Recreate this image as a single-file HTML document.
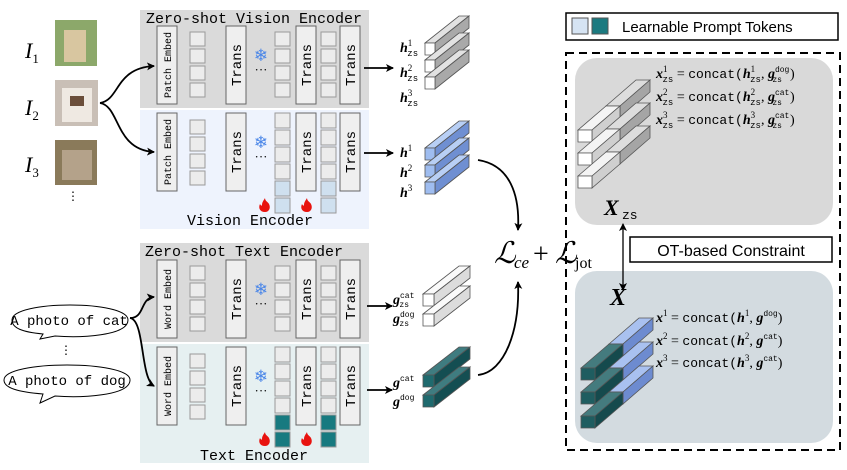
<!DOCTYPE html>
<html><head><meta charset="utf-8"><style>
body{margin:0;background:#fff}
svg{display:block}
.mono{font-family:"Liberation Mono",monospace}
.serif{font-family:"Liberation Serif",serif}
.sans{font-family:"Liberation Sans",sans-serif}
</style></head><body>
<svg id="s" width="847" height="470" viewBox="0 0 847 470" xmlns="http://www.w3.org/2000/svg">
<defs>
<marker id="ah" markerWidth="8" markerHeight="8" refX="7" refY="4" orient="auto" markerUnits="userSpaceOnUse"><path d="M0,0 L8,4 L0,8 L2,4 z" fill="#000"/></marker>
<marker id="ah2" markerWidth="8" markerHeight="8" refX="1" refY="4" orient="auto" markerUnits="userSpaceOnUse"><path d="M8,0 L0,4 L8,8 L6,4 z" fill="#000"/></marker>
</defs>
<rect x="140" y="10" width="229" height="98" fill="#dadada"/>
<rect x="140" y="110" width="229" height="119" fill="#eef3fd"/>
<rect x="140" y="243" width="229" height="99" fill="#dadada"/>
<rect x="140" y="344" width="229" height="119" fill="#e6f0f1"/>
<text x="254" y="23" class="mono" font-size="15" text-anchor="middle">Zero-shot Vision Encoder</text>
<text x="250" y="225" class="mono" font-size="15" text-anchor="middle">Vision Encoder</text>
<text x="244" y="256" class="mono" font-size="15" text-anchor="middle">Zero-shot Text Encoder</text>
<text x="254" y="460" class="mono" font-size="15" text-anchor="middle">Text Encoder</text>
<g id="enc"></g>
<rect x="566" y="13" width="272" height="27" fill="#fff" stroke="#000" stroke-width="1.5"/>
<rect x="572" y="18" width="16" height="16" fill="#d6e4f3" stroke="#555"/>
<rect x="592" y="18" width="16" height="16" fill="#1c7a80" stroke="#555"/>
<text x="622" y="32" class="sans" font-size="15">Learnable Prompt Tokens</text>
<rect x="566" y="53" width="274" height="397" fill="none" stroke="#000" stroke-width="2" stroke-dasharray="8,5"/>
<rect x="575" y="58" width="258" height="167" rx="22" fill="#d9d9d9"/>
<rect x="575" y="271" width="258" height="172" rx="22" fill="#d3dbe0"/>
<rect x="630" y="237" width="202" height="25" fill="#fff" stroke="#000" stroke-width="1.5"/>
<text x="731" y="256" class="sans" font-size="16" text-anchor="middle">OT-based Constraint</text>
<line x1="623" y1="224" x2="623" y2="290" stroke="#000" stroke-width="1.3" marker-start="url(#ah2)" marker-end="url(#ah)"/>
<text x="604" y="215" class="serif" font-size="22" font-style="italic" font-weight="bold">X</text>
<text x="622" y="219" class="mono" font-size="13">zs</text>
<text x="610" y="305" class="serif" font-size="24" font-style="italic" font-weight="bold">X</text>
<g class="serif" font-size="14">
<text x="656" y="78"><tspan font-style="italic" font-weight="bold">x</tspan><tspan font-size="9" dy="-6">1</tspan><tspan font-size="9" dx="-5" dy="10" class="mono">zs</tspan><tspan dy="-4"> = </tspan><tspan class="mono" font-size="13">concat(</tspan><tspan font-style="italic" font-weight="bold">h</tspan><tspan font-size="9" dy="-6">1</tspan><tspan font-size="9" dx="-5" dy="10" class="mono">zs</tspan><tspan dy="-4">, </tspan><tspan font-style="italic" font-weight="bold">g</tspan><tspan font-size="8" dy="-6" class="mono">dog</tspan><tspan font-size="8" dx="-17" dy="10" class="mono">zs</tspan><tspan dx="8" dy="-4">)</tspan></text>
<text x="656" y="101"><tspan font-style="italic" font-weight="bold">x</tspan><tspan font-size="9" dy="-6">2</tspan><tspan font-size="9" dx="-5" dy="10" class="mono">zs</tspan><tspan dy="-4"> = </tspan><tspan class="mono" font-size="13">concat(</tspan><tspan font-style="italic" font-weight="bold">h</tspan><tspan font-size="9" dy="-6">2</tspan><tspan font-size="9" dx="-5" dy="10" class="mono">zs</tspan><tspan dy="-4">, </tspan><tspan font-style="italic" font-weight="bold">g</tspan><tspan font-size="8" dy="-6" class="mono">cat</tspan><tspan font-size="8" dx="-17" dy="10" class="mono">zs</tspan><tspan dx="8" dy="-4">)</tspan></text>
<text x="656" y="124"><tspan font-style="italic" font-weight="bold">x</tspan><tspan font-size="9" dy="-6">3</tspan><tspan font-size="9" dx="-5" dy="10" class="mono">zs</tspan><tspan dy="-4"> = </tspan><tspan class="mono" font-size="13">concat(</tspan><tspan font-style="italic" font-weight="bold">h</tspan><tspan font-size="9" dy="-6">3</tspan><tspan font-size="9" dx="-5" dy="10" class="mono">zs</tspan><tspan dy="-4">, </tspan><tspan font-style="italic" font-weight="bold">g</tspan><tspan font-size="8" dy="-6" class="mono">cat</tspan><tspan font-size="8" dx="-17" dy="10" class="mono">zs</tspan><tspan dx="8" dy="-4">)</tspan></text>
<text x="656" y="322"><tspan font-style="italic" font-weight="bold">x</tspan><tspan font-size="9" dy="-6">1</tspan><tspan dy="6"> = </tspan><tspan class="mono" font-size="13">concat(</tspan><tspan font-style="italic" font-weight="bold">h</tspan><tspan font-size="9" dy="-6">1</tspan><tspan dy="6">, </tspan><tspan font-style="italic" font-weight="bold">g</tspan><tspan font-size="8" dy="-6" class="mono">dog</tspan><tspan dy="6">)</tspan></text>
<text x="656" y="345"><tspan font-style="italic" font-weight="bold">x</tspan><tspan font-size="9" dy="-6">2</tspan><tspan dy="6"> = </tspan><tspan class="mono" font-size="13">concat(</tspan><tspan font-style="italic" font-weight="bold">h</tspan><tspan font-size="9" dy="-6">2</tspan><tspan dy="6">, </tspan><tspan font-style="italic" font-weight="bold">g</tspan><tspan font-size="8" dy="-6" class="mono">cat</tspan><tspan dy="6">)</tspan></text>
<text x="656" y="367"><tspan font-style="italic" font-weight="bold">x</tspan><tspan font-size="9" dy="-6">3</tspan><tspan dy="6"> = </tspan><tspan class="mono" font-size="13">concat(</tspan><tspan font-style="italic" font-weight="bold">h</tspan><tspan font-size="9" dy="-6">3</tspan><tspan dy="6">, </tspan><tspan font-style="italic" font-weight="bold">g</tspan><tspan font-size="8" dy="-6" class="mono">cat</tspan><tspan dy="6">)</tspan></text>
</g>
<text x="494" y="263" class="serif" font-size="30" font-style="italic">ℒ</text>
<text x="514" y="268" class="serif" font-size="17" font-style="italic">ce</text>
<text x="533" y="263" class="serif" font-size="28">+</text>
<text x="555" y="263" class="serif" font-size="30" font-style="italic">ℒ</text>
<text x="575" y="268" class="serif" font-size="16">jot</text>
<path d="M478,160 C510,165 520,195 518,230" fill="none" stroke="#000" stroke-width="1.8" marker-end="url(#ah)"/>
<path d="M478,375 C505,372 520,330 518,282" fill="none" stroke="#000" stroke-width="1.8" marker-end="url(#ah)"/>
<rect x="55" y="20" width="42" height="46" fill="#8ca86a"/><rect x="64" y="30" width="22" height="32" fill="#d8c6a0"/>
<rect x="55" y="80" width="43" height="46" fill="#c9bfb6"/><rect x="62" y="88" width="30" height="34" fill="#efe9e2"/><rect x="70" y="96" width="14" height="10" fill="#6b4e3a"/>
<rect x="55" y="140" width="42" height="45" fill="#8a7a5a"/><rect x="62" y="150" width="30" height="30" fill="#b4a28a"/>
<text x="25" y="58" class="serif" font-size="22" font-style="italic">I<tspan font-size="13" font-style="normal" dy="5">1</tspan></text>
<text x="25" y="115" class="serif" font-size="22" font-style="italic">I<tspan font-size="13" font-style="normal" dy="5">2</tspan></text>
<text x="25" y="172" class="serif" font-size="22" font-style="italic">I<tspan font-size="13" font-style="normal" dy="5">3</tspan></text>
<text x="73" y="200" font-size="12" class="serif" text-anchor="middle">⋮</text>
<path d="M100,103 C120,100 115,68 154,66" fill="none" stroke="#000" stroke-width="1.8" marker-end="url(#ah)"/>
<path d="M100,103 C120,106 115,150 154,152" fill="none" stroke="#000" stroke-width="1.8" marker-end="url(#ah)"/>
<path d="M12,320 C12,300 128,300 128,320 C128,336 80,338 55,336 L40,339 L43,334 C22,332 12,328 12,320 z" fill="#fff" stroke="#000"/>
<text x="69" y="325" class="mono" font-size="14" text-anchor="middle">A photo of cat</text>
<text x="66" y="354" font-size="12" class="serif" text-anchor="middle">⋮</text>
<path d="M4,380 C4,360 130,360 130,380 C130,396 80,398 55,396 L40,403 L43,394 C18,392 4,388 4,380 z" fill="#fff" stroke="#000"/>
<text x="67" y="385" class="mono" font-size="14" text-anchor="middle">A photo of dog</text>
<path d="M130,318 C145,318 140,298 154,297" fill="none" stroke="#000" stroke-width="1.8" marker-end="url(#ah)"/>
<path d="M130,318 C145,320 140,378 154,386" fill="none" stroke="#000" stroke-width="1.8" marker-end="url(#ah)"/>
<line x1="364" y1="68" x2="393" y2="68" stroke="#000" stroke-width="1.8" marker-end="url(#ah)"/>
<line x1="364" y1="153" x2="393" y2="153" stroke="#000" stroke-width="1.8" marker-end="url(#ah)"/>
<line x1="367" y1="306" x2="392" y2="306" stroke="#000" stroke-width="1.8" marker-end="url(#ah)"/>
<line x1="367" y1="390" x2="392" y2="390" stroke="#000" stroke-width="1.8" marker-end="url(#ah)"/>
<g class="serif" font-size="14" font-style="italic" font-weight="bold">
<text x="400" y="52">h<tspan font-size="9" font-style="normal" font-weight="normal" dy="-6">1</tspan><tspan font-size="9" class="mono" font-style="normal" font-weight="normal" dx="-5" dy="10">zs</tspan></text>
<text x="400" y="77">h<tspan font-size="9" font-style="normal" font-weight="normal" dy="-6">2</tspan><tspan font-size="9" class="mono" font-style="normal" font-weight="normal" dx="-5" dy="10">zs</tspan></text>
<text x="400" y="102">h<tspan font-size="9" font-style="normal" font-weight="normal" dy="-6">3</tspan><tspan font-size="9" class="mono" font-style="normal" font-weight="normal" dx="-5" dy="10">zs</tspan></text>
<text x="400" y="157">h<tspan font-size="9" font-style="normal" font-weight="normal" dy="-6">1</tspan></text>
<text x="400" y="177">h<tspan font-size="9" font-style="normal" font-weight="normal" dy="-6">2</tspan></text>
<text x="400" y="197">h<tspan font-size="9" font-style="normal" font-weight="normal" dy="-6">3</tspan></text>
<text x="393" y="304">g<tspan font-size="8" class="mono" font-style="normal" font-weight="normal" dy="-6">cat</tspan><tspan font-size="8" class="mono" font-style="normal" font-weight="normal" dx="-15" dy="9">zs</tspan></text>
<text x="393" y="323">g<tspan font-size="8" class="mono" font-style="normal" font-weight="normal" dy="-6">dog</tspan><tspan font-size="8" class="mono" font-style="normal" font-weight="normal" dx="-15" dy="9">zs</tspan></text>
<text x="393" y="387">g<tspan font-size="8" class="mono" font-style="normal" font-weight="normal" dy="-6">cat</tspan></text>
<text x="393" y="406">g<tspan font-size="8" class="mono" font-style="normal" font-weight="normal" dy="-6">dog</tspan></text>
</g>
<g id="bars"></g>
</svg>
<script>
var NS="http://www.w3.org/2000/svg";
function el(p,t,a,txt){var e=document.createElementNS(NS,t);for(var k in a)e.setAttribute(k,a[k]);if(txt)e.textContent=txt;document.getElementById(p).appendChild(e);return e;}
function r(x,y,w,h,f,s){el("enc","rect",{x:x,y:y,width:w,height:h,fill:f||"#efefef",stroke:s||"#666","stroke-width":1});}
function vt(x,y,txt,fs){el("enc","text",{x:0,y:0,"class":"mono","font-size":fs,"text-anchor":"middle",transform:"translate("+x+","+y+") rotate(-90)"},txt);}
function flake(x,y){el("enc","text",{x:x,y:y,"font-size":17,fill:"#4a86e8","text-anchor":"middle","font-family":"DejaVu Sans"},"❄");}
function dots(x,y){el("enc","text",{x:x,y:y,"font-size":13,"text-anchor":"middle","class":"serif"},"···");}
function fire(x,y){el("enc","path",{d:"M"+x+","+(y+12)+" c-5,0 -7,-4 -5,-8 c1,2 2,2 2,1 c0,-3 2,-5 3,-7 c0,3 3,4 4,6 c2,4 0,8 -4,8 z",fill:"#e8130f"});}
function enc(y0,top,emb,prompt){
 var H=78;
 r(157,y0,20,H);vt(171,y0+H/2,emb,10);
 var sq=top?[6,23,40,57]:[7,24,41,58];
 sq.forEach(function(d){r(190,y0+d,15,14,"#ececec","#999");});
 r(226,y0,20,H);vt(241,y0+H/2,"Trans",14);
 r(296,y0,20,H);vt(311,y0+H/2,"Trans",14);
 r(340,y0,20,H);vt(355,y0+H/2,"Trans",14);
 if(top){[6,23,40,57].forEach(function(d){r(275,y0+d,15,14,"#ececec","#999");r(321,y0+d,15,14,"#ececec","#999");});flake(261,y0+35);dots(261,y0+48);}
 else{for(var i=0;i<6;i++){var c=i>=4?prompt:"#ececec";r(275,y0+i*17,15,15,c,"#999");r(321,y0+i*17,15,15,c,"#999");}
  flake(261,y0+35);dots(261,y0+48);fire(265,y0+87);fire(307,y0+87);}
}
enc(26,true,"Patch Embed");
enc(113,false,"Patch Embed","#cfe0ef");
enc(260,true,"Word Embed");
enc(347,false,"Word Embed","#177a80");
function poly(pts,f){el("bars","polygon",{points:pts.map(function(p){return p.join(",")}).join(" "),fill:f,stroke:"#555","stroke-width":0.8});}
function bar(x,y,w,h,dx,dy,front,top,side){
 poly([[x,y],[x+dx,y-dy],[x+w+dx,y-dy],[x+w,y]],top);
 poly([[x+w,y],[x+w+dx,y-dy],[x+w+dx,y+h-dy],[x+w,y+h]],side);
 poly([[x,y],[x+w,y],[x+w,y+h],[x,y+h]],front);
}
[43,60,77].forEach(function(y){bar(425,y,10,12,34,27,"#fff","#e2e2e2","#a9a9a9");});
[148,165,182].forEach(function(y){bar(425,y,10,12,34,27,"#9fbdf0","#b8cff5","#6f8fd2");});
[294,314].forEach(function(y){bar(423,y,11,12,36,28,"#fff","#fafafa","#dcdcdc");});
[375,395].forEach(function(y){bar(423,y,11,12,36,28,"#1f6a6e","#3f7c80","#144e52");});
[130,153,176].forEach(function(y){
 bar(578+28,y-24,14,12,30,26,"#bbb","#ddd","#a5a5a5");
 bar(578,y,14,12,28,24,"#fff","#f4f4f4","#cfcfcf");
});
[368,392,416].forEach(function(y){
 bar(581+28,y-24,14,12,30,26,"#9db5e8","#a9c1f0","#6d8bd0");
 bar(581,y,14,12,28,24,"#1f5d60","#447b7e","#154a4d");
});
</script>
</body></html>
